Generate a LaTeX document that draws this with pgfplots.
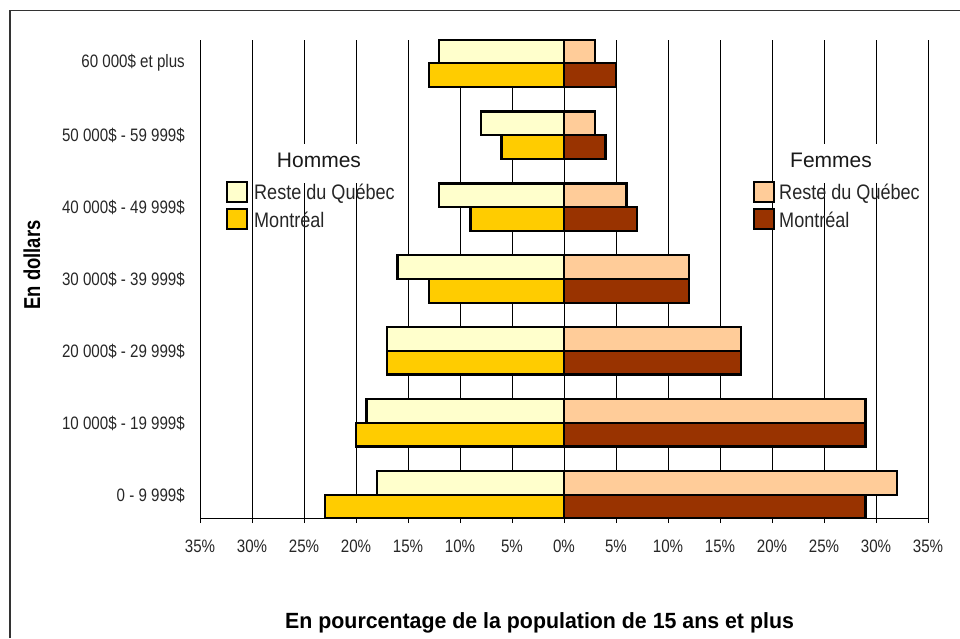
\documentclass[border=0pt]{standalone}
\usepackage{fontspec}
\setmainfont{Liberation Sans}
\newfontfamily\narrowfont[FakeStretch=0.8]{Liberation Sans}
\newfontfamily\tickfont[FakeStretch=0.84]{Liberation Sans}
\newfontfamily\legfont[FakeStretch=0.86]{Liberation Sans}
\newfontfamily\xlabfont[FakeStretch=0.97]{Liberation Sans}
\usepackage{pgfplots}
\pgfplotsset{compat=1.18}
\definecolor{menR}{HTML}{FFFFCC}
\definecolor{menM}{HTML}{FFCC00}
\definecolor{womR}{HTML}{FFCC99}
\definecolor{womM}{HTML}{993300}
\begin{document}
\begin{tikzpicture}[x=1pt,y=1pt]
\path[use as bounding box] (0,0) rectangle (960,638);
\draw[line width=1.2pt, black!80] (10,0) -- (10,627.5) -- (960,627.5);
\begin{axis}[
  at={(200pt,120pt)}, anchor=south west,
  scale only axis, width=728pt, height=478pt,
  xmin=-35, xmax=35, ymin=-0.32, ymax=6.32,
  xbar, bar width=0.33,
  axis lines*=left,
  axis line style={black, line width=1pt},
  xmajorgrids, grid style={black, line width=0.9pt},
  xtick={-35,-30,...,35},
  xticklabels={35\%,30\%,25\%,20\%,15\%,10\%,5\%,0\%,5\%,10\%,15\%,20\%,25\%,30\%,35\%},
  tick align=outside, major tick length=5pt,
  x tick style={black, line width=0.9pt},
  ytick={0,...,6},
  yticklabels={0 - 9 999\$, 10 000\$ - 19 999\$, 20 000\$ - 29 999\$, 30 000\$ - 39 999\$, 40 000\$ - 49 999\$, 50 000\$ - 59 999\$, 60 000\$ et plus},
  y tick style={draw=none},
  ticklabel style={font=\tickfont\fontsize{18}{21}\selectfont, text=black!85},
  xticklabel style={inner sep=0pt, yshift=-17pt},
  yticklabel style={inner sep=0pt, xshift=-10pt},
]
\addplot[fill=menR, draw=black, line width=2.5pt, bar shift=0.165]
  coordinates {(-18,0) (-19,1) (-17,2) (-16,3) (-12,4) (-8,5) (-12,6)};
\addplot[fill=menM, draw=black, line width=2.5pt, bar shift=-0.165]
  coordinates {(-23,0) (-20,1) (-17,2) (-13,3) (-9,4) (-6,5) (-13,6)};
\addplot[fill=womR, draw=black, line width=2.5pt, bar shift=0.165]
  coordinates {(32,0) (29,1) (17,2) (12,3) (6,4) (3,5) (3,6)};
\addplot[fill=womM, draw=black, line width=2.5pt, bar shift=-0.165]
  coordinates {(29,0) (29,1) (17,2) (12,3) (7,4) (4,5) (5,6)};
\end{axis}
% legend title backgrounds
\fill[white] (265,455) rectangle (375,494);
\fill[white] (790,455) rectangle (900,494);
\node[font=\fontsize{21}{24}\selectfont, text=black!90] at (319,478) {Hommes};
\node[font=\fontsize{21}{24}\selectfont, text=black!90] at (831,478) {Femmes};
% Hommes legend
\draw[fill=menR, line width=2pt] (227,436) rectangle (247,456);
\draw[fill=menM, line width=2pt] (227,409) rectangle (247,429);
\node[anchor=base west, inner sep=0pt, font=\legfont\fontsize{21}{24}\selectfont, text=black!85] at (254,438) {Reste du Québec};
\node[anchor=base west, inner sep=0pt, font=\legfont\fontsize{21}{24}\selectfont, text=black!85] at (254,410) {Montréal};
% Femmes legend
\draw[fill=womR, line width=2pt] (754,436) rectangle (774,456);
\draw[fill=womM, line width=2pt] (754,409) rectangle (774,429);
\node[anchor=base west, inner sep=0pt, font=\legfont\fontsize{21}{24}\selectfont, text=black!85] at (779,438) {Reste du Québec};
\node[anchor=base west, inner sep=0pt, font=\legfont\fontsize{21}{24}\selectfont, text=black!85] at (779,410) {Montréal};
% axis titles
\node[rotate=90, font=\narrowfont\bfseries\fontsize{23}{26}\selectfont] at (32,373) {En dollars};
\node[anchor=base west, inner sep=0pt, font=\xlabfont\bfseries\fontsize{22}{26}\selectfont] at (285,10) {En pourcentage de la population de 15 ans et plus};
\end{tikzpicture}
\end{document}
